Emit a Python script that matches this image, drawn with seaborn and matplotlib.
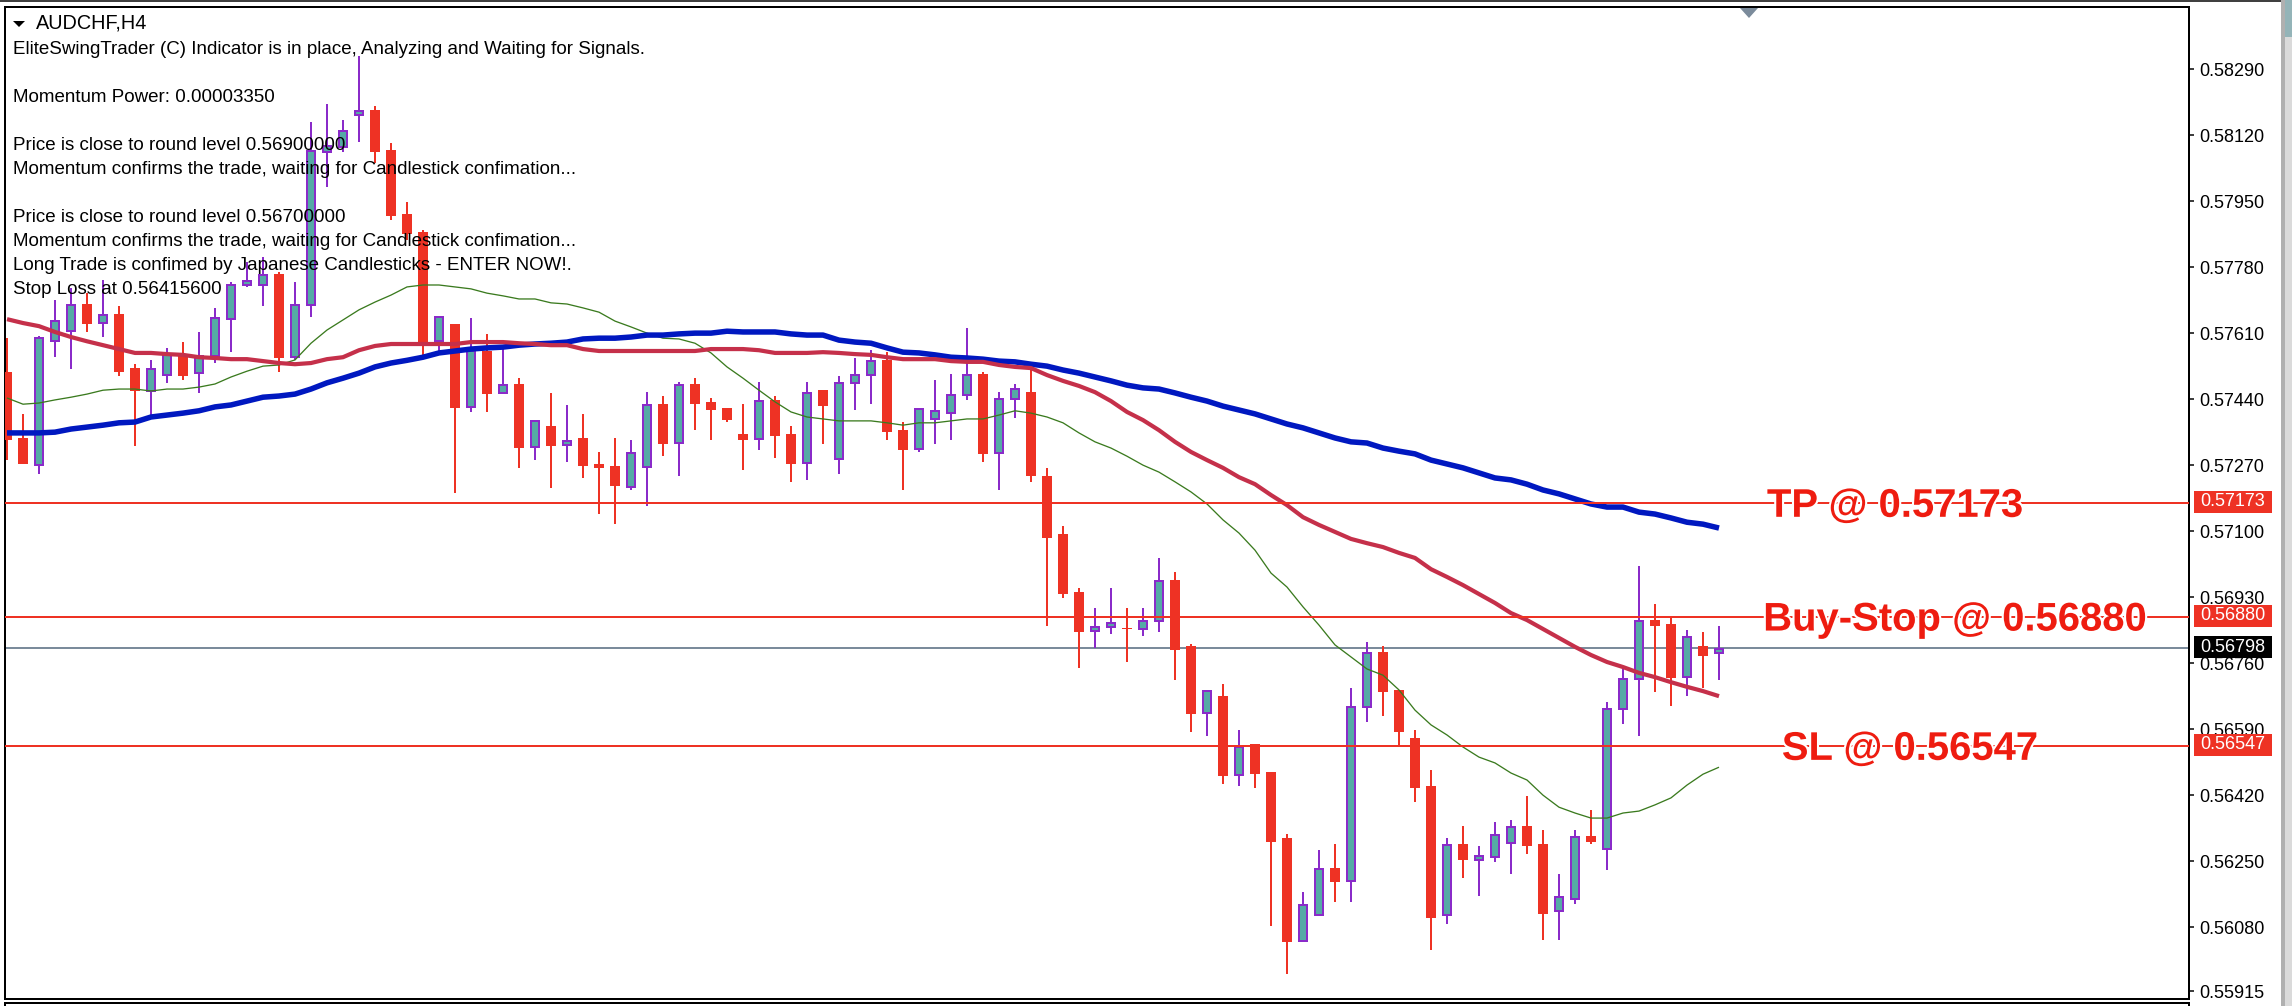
import numpy as np
import pandas as pd
import seaborn as sns
import matplotlib
matplotlib.use("Agg")
import matplotlib.pyplot as plt
import matplotlib.patheffects as pe
from matplotlib.patches import Rectangle, Polygon
from matplotlib.transforms import IdentityTransform, blended_transform_factory

# Prices in points (price x 100000)
POINT = 1e-5
highs = [57597,57402,57602,57695,57726,57713,57747,57680,57530,57540,
         57572,57587,57613,57675,57742,57793,57806,57767,57742,58154,
         58200,58159,58324,58195,58100,57948,57876,57651,57633,57649,
         57608,57572,57494,57384,57456,57425,57402,57304,57340,57335,
         57458,57448,57484,57494,57443,57417,57427,57484,57448,57371,
         57484,57463,57500,57546,57566,57561,57381,57415,57489,57505,
         57623,57510,57458,57479,57515,57263,57113,56954,56902,56954,
         56902,56902,57031,56995,56809,56688,56706,56588,56552,56480,
         56320,56170,56279,56294,56696,56814,56804,56691,56588,56485,
         56310,56340,56289,56351,56356,56418,56330,56217,56330,56382,
         56660,56745,57010,56912,56876,56845,56840,56856]
lows = [57283,57273,57247,57548,57517,57613,57600,57500,57319,57399,
        57482,57489,57456,57533,57561,57729,57680,57510,57540,57651,
        57986,58076,58102,58048,57901,57850,57553,57564,57198,57407,
        57407,57456,57263,57283,57211,57278,57237,57144,57118,57206,
        57165,57293,57242,57360,57335,57381,57257,57309,57288,57227,
        57232,57324,57247,57412,57427,57335,57206,57304,57324,57335,
        57438,57278,57206,57391,57227,56856,56928,56747,56799,56835,
        56763,56830,56840,56717,56583,56572,56449,56444,56438,56083,
        55959,56044,56111,56145,56145,56608,56624,56544,56402,56021,
        56088,56207,56160,56248,56217,56268,56047,56047,56140,56294,
        56227,56603,56572,56686,56650,56675,56696,56717]
opens = [57510,57340,57271,57589,57615,57685,57636,57659,57520,57461,
         57502,57556,57507,57551,57646,57734,57734,57762,57548,57682,
         58076,58089,58172,58185,58082,57917,57870,57589,57633,57420,
         57564,57456,57479,57317,57371,57322,57340,57273,57268,57214,
         57265,57427,57327,57479,57433,57417,57350,57337,57438,57350,
         57275,57463,57286,57482,57502,57540,57360,57312,57389,57404,
         57451,57505,57301,57440,57458,57242,57093,56943,56843,56853,
         56850,56848,56869,56974,56804,56632,56675,56472,56552,56480,
         56310,56044,56111,56232,56199,56647,56789,56691,56567,56444,
         56111,56294,56253,56261,56297,56340,56294,56122,56152,56315,
         56281,56642,56719,56871,56861,56724,56804,56786]
closes = [57335,57273,57597,57641,57682,57633,57656,57510,57461,57517,
          57556,57500,57551,57649,57734,57744,57760,57546,57682,58079,
          58092,58131,58182,58076,57912,57865,57584,57651,57417,57564,
          57453,57476,57314,57384,57319,57332,57268,57263,57216,57301,
          57425,57324,57476,57427,57412,57386,57335,57435,57345,57273,
          57456,57422,57482,57502,57538,57355,57309,57415,57410,57451,
          57502,57299,57440,57466,57242,57082,56938,56840,56853,56863,
          56848,56869,56972,56794,56629,56688,56469,56544,56474,56299,
          56042,56137,56230,56196,56647,56786,56686,56583,56438,56104,
          56292,56253,56263,56317,56338,56289,56114,56158,56312,56299,
          56642,56719,56869,56856,56722,56827,56778,56796]
ma_blue = [57353,57353,57353,57355,57363,57368,57373,57379,57381,57394,
           57399,57404,57410,57420,57425,57435,57445,57448,57453,57466,
           57482,57494,57507,57523,57533,57540,57548,57559,57564,57569,
           57572,57574,57579,57582,57584,57587,57595,57597,57597,57600,
           57605,57605,57608,57610,57610,57615,57613,57613,57613,57608,
           57605,57605,57592,57587,57584,57572,57561,57559,57554,57548,
           57546,57543,57538,57536,57530,57525,57515,57507,57497,57487,
           57476,57469,57466,57456,57445,57435,57422,57412,57402,57389,
           57376,57366,57353,57340,57330,57327,57314,57306,57299,57283,
           57273,57263,57250,57237,57232,57221,57206,57196,57183,57170,
           57162,57162,57149,57144,57134,57123,57118,57108]
ma_red = [57646,57636,57628,57613,57600,57589,57579,57569,57559,57559,
          57556,57554,57548,57546,57543,57543,57538,57533,57530,57533,
          57543,57548,57566,57577,57582,57582,57582,57582,57582,57587,
          57587,57587,57584,57582,57579,57579,57569,57564,57564,57564,
          57564,57564,57564,57564,57569,57569,57569,57566,57559,57559,
          57559,57561,57559,57556,57554,57548,57543,57543,57543,57538,
          57536,57536,57528,57523,57520,57502,57487,57474,57458,57435,
          57407,57386,57360,57330,57304,57283,57263,57239,57221,57193,
          57167,57136,57116,57098,57080,57069,57059,57044,57031,57002,
          56982,56961,56938,56915,56889,56871,56848,56825,56802,56781,
          56763,56750,56735,56724,56711,56699,56688,56675]
ma_green = [57443,57427,57430,57438,57445,57453,57463,57466,57466,57461,
            57466,57466,57471,57479,57497,57512,57525,57528,57541,57584,
            57618,57644,57670,57690,57708,57729,57734,57734,57729,57724,
            57713,57706,57698,57698,57688,57685,57675,57664,57641,57626,
            57610,57597,57595,57584,57559,57523,57494,57463,57433,57407,
            57394,57389,57384,57384,57384,57379,57373,57379,57379,57384,
            57389,57389,57399,57410,57404,57394,57379,57353,57330,57314,
            57293,57270,57252,57227,57201,57170,57129,57095,57051,56992,
            56956,56905,56858,56807,56776,56745,56729,56691,56639,56601,
            56575,56544,56518,56503,56477,56459,56420,56389,56374,56361,
            56361,56374,56379,56395,56413,56446,56474,56492]

tick_labels = ["0.58290","0.58120","0.57950","0.57780","0.57610","0.57440","0.57270","0.57100",
               "0.56930","0.56760","0.56590","0.56420","0.56250","0.56080","0.55915"]
level_tp, level_entry, level_sl, level_last = 0.57173, 0.56880, 0.56547, 0.56798
title = "AUDCHF,H4"
info_lines = [
    "EliteSwingTrader (C) Indicator is in place, Analyzing and Waiting for Signals.",
    "Momentum Power: 0.00003350",
    "Price is close to round level 0.56900000",
    "Momentum confirms the trade, waiting for Candlestick confimation...",
    "Price is close to round level 0.56700000",
    "Momentum confirms the trade, waiting for Candlestick confimation...",
    "Long Trade is confimed by Japanese Candlesticks - ENTER NOW!.",
    "Stop Loss at 0.56415600",
]
info_y_px = [50, 97, 145, 169, 217, 242, 266, 289]

RED, PURPLE, TEAL = "#EE3224", "#8A2BC9", "#55AAA5"
BLUE_MA, RED_MA, GREEN_MA, GREY = "#0018C0", "#C5304A", "#3A7A1E", "#7B8B9B"
W, H = 2292, 1006
DPI = 100
PX = 72 / DPI

sns.set_theme(style="white", rc={"axes.edgecolor": "black", "axes.linewidth": 2 * PX})
plt.rcParams["font.family"] = ["Liberation Sans", "DejaVu Sans"]

fig = plt.figure(figsize=(W / DPI, H / DPI), dpi=DPI, facecolor="white")
ax = fig.add_axes([5 / W, (H - 999) / H, 2184 / W, 992 / H])

df = pd.DataFrame({"k": np.arange(len(opens)), "o": opens, "h": highs, "l": lows, "c": closes,
                   "blue": ma_blue, "red": ma_red, "green": ma_green})
for col in ["o", "h", "l", "c", "blue", "red", "green"]:
    df[col] = df[col] * POINT
bull = df[df.c >= df.o]
bear = df[df.c < df.o]

ax.axhline(level_last, color=GREY, lw=2 * PX, zorder=1)

ax.vlines(bear.k, bear.l, bear.h, color=RED, lw=2 * PX, zorder=2, antialiased=False)
ax.vlines(bull.k, bull.l, bull.h, color=PURPLE, lw=2 * PX, zorder=2, antialiased=False)
ax.bar(bear.k, bear.o - bear.c, bottom=bear.c, width=10 / 16, color=RED, linewidth=0, zorder=3)
ax.bar(bull.k, bull.c - bull.o, bottom=bull.o, width=8 / 16, color=TEAL, edgecolor=PURPLE,
       linewidth=2 * PX, zorder=3)

for col, colour, lw in [("green", GREEN_MA, 1.3), ("blue", BLUE_MA, 5.5), ("red", RED_MA, 4.2)]:
    sns.lineplot(data=df, x="k", y=col, ax=ax, color=colour, linewidth=lw * PX, legend=False,
                 errorbar=None, zorder=4, solid_capstyle="butt")

for lv in (level_tp, level_entry, level_sl):
    ax.axhline(lv, color=RED, lw=2 * PX, zorder=5)

ax.set_xlim(-0.125, 136.375)
ax.set_ylim(0.55895, 0.58450)
ax.set(xlabel="", ylabel="")
ax.set_xticks([])
ax.yaxis.tick_right()
ax.set_yticks([float(t) for t in tick_labels])
ax.set_yticklabels(tick_labels)
ax.tick_params(axis="y", right=True, length=5 * PX, width=1.5 * PX, pad=5 * PX,
               labelsize=13, labelcolor="black", color="black")
for s in ax.spines.values():
    s.set_visible(True)
    s.set_color("black")

# Big level annotations
halo = [pe.withStroke(linewidth=3 * PX * 1.4, foreground="white")]
for label, lv, k_c in [("TP @ 0.57173", level_tp, 118.0),
                       ("Buy-Stop @ 0.56880", level_entry, 121.75),
                       ("SL @ 0.56547", level_sl, 118.94)]:
    ax.annotate(label, xy=(k_c, lv), xytext=(0, -14 * PX), textcoords="offset points",
                ha="center", va="baseline", fontsize=28.8, fontweight="bold",
                color="#EE1C10", zorder=6, path_effects=halo)

# Price tags
blend = blended_transform_factory(ax.transAxes, ax.transData)
px_price = 1 / 38824
for lv, colour in [(level_tp, RED), (level_entry, RED), (level_sl, RED), (level_last, "black")]:
    ax.add_patch(Rectangle(((2194 - 5) / 2184, lv - 10 * px_price), 78 / 2184, 22 * px_price,
                           transform=blend, facecolor=colour, edgecolor="none",
                           clip_on=False, zorder=10))
    ax.text((2233 - 5) / 2184, lv + 1 * px_price, f"{lv:.5f}", transform=blend, ha="center", va="center",
            color="white", fontsize=13, zorder=11, clip_on=False)

# Title and indicator text, placed in pixels from the top
def py(y):
    return H - y

tr = IdentityTransform()
fig.text(36, py(23), title, transform=tr, fontsize=14.3, va="center", ha="left", color="black", zorder=20)
for txt, y in zip(info_lines, info_y_px):
    fig.text(13, py(y), txt, transform=tr, fontsize=13.5, va="center", ha="left", color="black", zorder=20)

def rect(x0, y0, x1, y1, colour):
    fig.add_artist(Rectangle((x0, py(y1)), x1 - x0, y1 - y0, transform=tr, facecolor=colour,
                             edgecolor="none", zorder=15))

rect(0, 0, 2281, 2, "#404040")         # window top edge
rect(2281, 0, 2285, H, "#B0B0B0")      # right border
rect(2285, 0, W, H, "#DADADA")
rect(2285, 0, W, 37, "#94B4B8")
rect(4, 1002, 2190, 1004, "black")     # next pane
rect(4, 1004, 6, H, "black")
rect(2188, 1004, 2190, H, "black")

fig.add_artist(Polygon([(13, py(21)), (25, py(21)), (19, py(27))], closed=True, transform=tr,
                       facecolor="black", edgecolor="none", zorder=20))
fig.add_artist(Polygon([(1740, py(8)), (1758, py(8)), (1749, py(18))], closed=True, transform=tr,
                       facecolor=GREY, edgecolor="none", zorder=20))

fig.savefig("out.png", dpi=DPI, facecolor="white")
